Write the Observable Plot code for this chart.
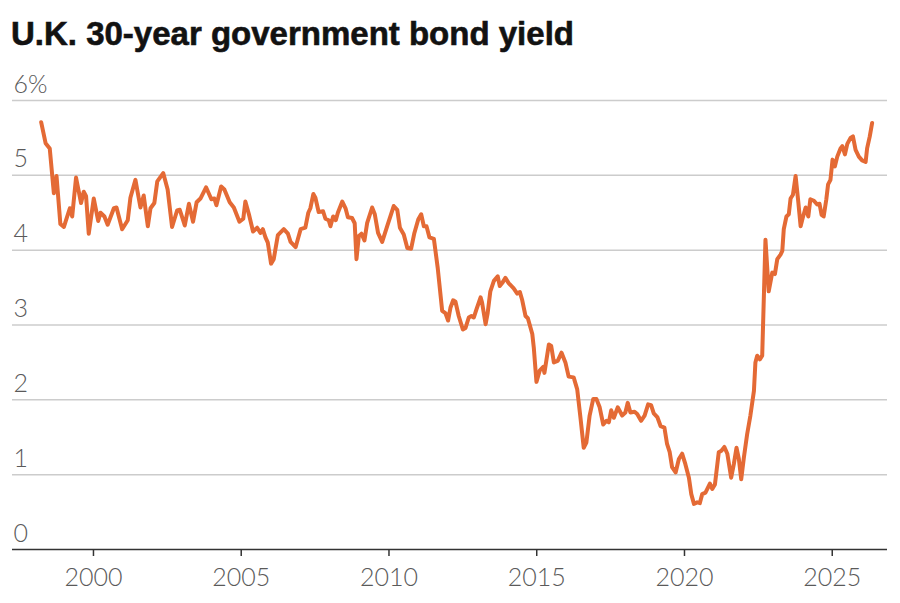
<!DOCTYPE html>
<html><head><meta charset="utf-8">
<script src="https://cdn.jsdelivr.net/npm/d3@7"></script>
<script src="https://cdn.jsdelivr.net/npm/@observablehq/plot@0.6"></script>
<style>
body{margin:0;background:#fff;}
#title{box-sizing:border-box;height:60px;padding:17px 0 0 11px;font:bold 33px/33px "Liberation Sans",Arial,sans-serif;color:#121212;white-space:nowrap;-webkit-text-stroke:0.6px #121212;}
</style></head><body>
<div id="title">U.K. 30-year government bond yield</div>
<div id="chart"></div>
<script>
const years = [
1998.23,1998.38,1998.52,1998.66,1998.75,1998.88,1999.00,1999.20,1999.28,1999.41,1999.58,1999.67,1999.75,1999.84,
2000.01,2000.16,2000.24,2000.37,2000.48,2000.69,2000.78,2000.97,2001.16,2001.25,2001.42,2001.59,2001.70,2001.84,2001.93,
2002.06,2002.16,2002.36,2002.51,2002.66,2002.83,2002.92,2003.09,2003.23,2003.37,2003.49,2003.62,2003.81,2003.99,
2004.09,2004.16,2004.32,2004.43,2004.61,2004.75,2004.94,2005.07,2005.14,2005.26,2005.40,2005.54,2005.65,2005.73,2005.82,2005.90,
2006.01,2006.10,2006.24,2006.44,2006.58,2006.67,2006.84,2007.01,2007.17,2007.27,2007.34,2007.44,2007.51,2007.62,2007.77,2007.85,2007.96,
2008.02,2008.11,2008.20,2008.27,2008.42,2008.53,2008.61,2008.75,2008.84,2008.90,2008.98,2009.07,2009.17,2009.26,2009.43,2009.52,2009.63,2009.77,2009.94,
2010.16,2010.28,2010.37,2010.50,2010.62,2010.75,2010.86,2010.99,2011.09,2011.18,2011.27,2011.37,2011.52,2011.65,2011.80,2011.91,
2012.00,2012.08,2012.17,2012.25,2012.36,2012.50,2012.59,2012.70,2012.79,2012.87,2012.96,2013.10,2013.15,2013.27,2013.34,2013.43,2013.55,2013.68,2013.75,2013.83,2013.94,
2014.05,2014.22,2014.34,2014.43,2014.51,2014.62,2014.70,2014.85,2014.90,2014.99,2015.10,2015.22,2015.26,2015.41,2015.49,2015.58,2015.71,2015.84,2015.97,
2016.08,2016.25,2016.37,2016.48,2016.59,2016.68,2016.79,2016.91,2017.02,2017.13,2017.25,2017.36,2017.44,2017.52,2017.61,2017.74,2017.89,
2018.00,2018.08,2018.17,2018.31,2018.40,2018.53,2018.65,2018.77,2018.87,2018.96,2019.08,2019.19,2019.32,2019.41,2019.50,2019.58,2019.70,2019.81,2019.92,
2020.03,2020.15,2020.23,2020.32,2020.43,2020.52,2020.60,2020.71,2020.86,2020.94,2021.03,2021.16,2021.25,2021.35,2021.45,2021.58,2021.67,2021.76,2021.84,2021.92,
2022.01,2022.12,2022.23,2022.35,2022.40,2022.46,2022.55,2022.63,2022.74,2022.85,2022.97,2023.06,2023.14,2023.25,2023.31,2023.36,2023.45,2023.53,2023.59,2023.67,2023.76,2023.85,2023.93,
2024.00,2024.10,2024.19,2024.26,2024.38,2024.49,2024.57,2024.64,2024.71,2024.80,2024.86,2024.94,2025.01,2025.09,2025.17,2025.28,2025.34,2025.43,2025.51,2025.62,2025.70,2025.79,2025.90,
2026.01,2026.13,2026.18,2026.27,2026.35
];
const yields = [
5.71,5.43,5.36,4.76,4.99,4.35,4.31,4.56,4.45,4.97,4.63,4.78,4.72,4.22,
4.69,4.39,4.50,4.45,4.34,4.56,4.57,4.28,4.40,4.70,4.94,4.57,4.73,4.32,4.56,
4.63,4.92,5.03,4.81,4.31,4.53,4.54,4.33,4.62,4.38,4.64,4.69,4.84,4.68,
4.69,4.60,4.85,4.81,4.64,4.57,4.38,4.42,4.65,4.48,4.25,4.30,4.23,4.28,4.17,4.10,
3.82,3.88,4.20,4.28,4.22,4.11,4.04,4.28,4.30,4.50,4.56,4.75,4.70,4.51,4.52,4.42,4.40,
4.32,4.45,4.40,4.50,4.65,4.56,4.44,4.43,4.36,3.88,4.19,4.22,4.13,4.36,4.57,4.48,4.23,4.11,4.32,
4.59,4.54,4.30,4.21,4.03,4.02,4.23,4.41,4.48,4.32,4.32,4.17,4.15,3.76,3.19,3.16,
3.06,3.23,3.33,3.31,3.12,2.94,2.96,3.10,3.12,3.10,3.21,3.37,3.30,3.01,3.16,3.45,3.59,3.65,3.52,3.56,3.63,
3.56,3.49,3.42,3.44,3.33,3.12,3.09,2.88,2.70,2.24,2.39,2.44,2.36,2.74,2.72,2.50,2.52,2.63,2.50,
2.31,2.30,2.14,1.76,1.36,1.43,1.79,2.01,2.01,1.90,1.67,1.72,1.70,1.86,1.76,1.90,1.79,
1.83,1.96,1.83,1.84,1.81,1.72,1.79,1.94,1.93,1.82,1.77,1.65,1.63,1.41,1.30,1.10,1.03,1.21,1.28,
1.14,0.96,0.74,0.61,0.63,0.62,0.74,0.76,0.88,0.81,0.87,1.30,1.32,1.37,1.28,0.96,1.14,1.36,1.21,0.94,
1.23,1.54,1.79,2.12,2.50,2.59,2.54,2.59,4.14,3.45,3.70,3.68,3.88,3.94,3.99,4.28,4.45,4.48,4.69,4.74,4.99,4.65,4.32,
4.43,4.57,4.45,4.68,4.66,4.61,4.62,4.47,4.45,4.68,4.88,4.94,5.21,5.12,5.25,5.36,5.39,5.28,5.42,5.50,5.52,5.34,5.25,
5.20,5.18,5.36,5.52,5.70
];
const yTicks = [0,1,2,3,4,5,6];
const gridTicks = [1,2,3,4,5,6];
const xTicks = [2000,2005,2010,2015,2020,2025];
const data = years.map((t,i)=>({t, v: yields[i]}));
const chart = Plot.plot({
  width:900, height:543,
  marginLeft:12, marginRight:13, marginTop:40, marginBottom:54,
  x:{domain:[1997.26,2026.87], label:null},
  y:{domain:[0,6], label:null},
  style:{fontFamily:"Lato, 'Open Sans', sans-serif", background:"#fff"},
  marks:[
    Plot.gridY(gridTicks, {stroke:"#cccccc", strokeOpacity:1, strokeWidth:1.5}),
    Plot.ruleY([0], {stroke:"#333", strokeWidth:1.5}),
    Plot.axisY(yTicks, {tickSize:0, tickPadding:0, textAnchor:"start", dx:1, dy:-16, fontSize:25, fontWeight:300, color:"#5a5a5a", label:null, tickFormat: d => d===6 ? "6%" : String(d)}),
    Plot.axisX(xTicks, {tickSize:7, color:"#333", strokeWidth:1.5, label:null, tickFormat: () => ""}),
    Plot.axisX(xTicks, {tickSize:0, tickPadding:19, color:"#5a5a5a", fontSize:25, fontWeight:300, label:null, tickFormat: d => String(d)}),
    Plot.line(data, {x:"t", y:"v", stroke:"#e46a35", strokeWidth:4, strokeLinejoin:"round", strokeLinecap:"round"})
  ]
});
document.getElementById("chart").appendChild(chart);
</script>
</body></html>
